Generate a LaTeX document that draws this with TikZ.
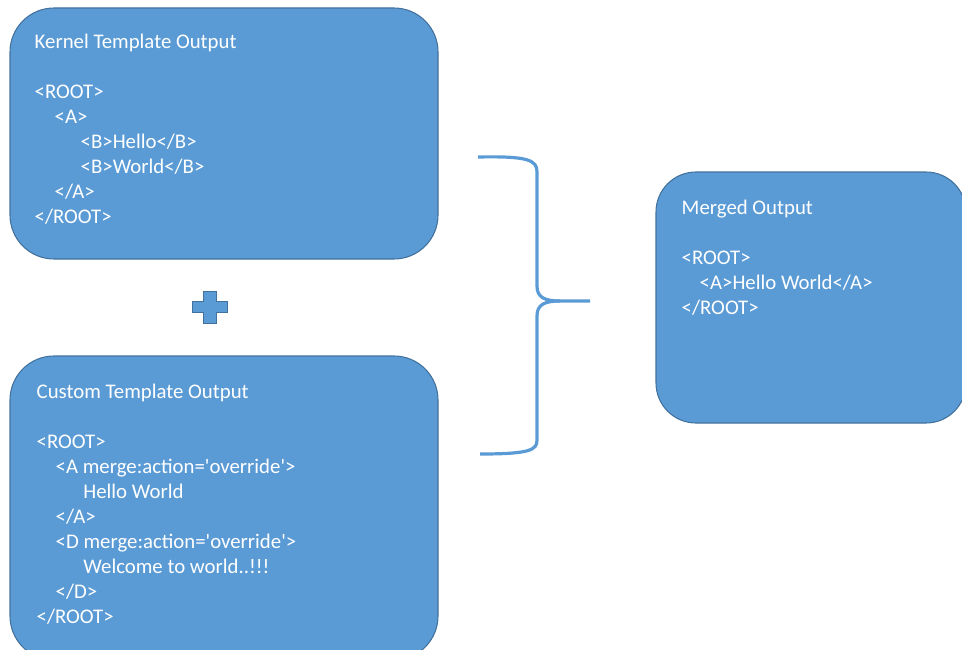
\documentclass[tikz,border=0pt]{standalone}
\usepackage{fontspec}
\setmainfont{Carlito}
\usepackage{tikz}
\usetikzlibrary{calc, positioning}
\definecolor{boxblue}{HTML}{5B9BD5}
\definecolor{boxedge}{HTML}{41719C}

\tikzset{
    outbox/.style={draw=boxedge, line width=0.8pt, fill=boxblue, rounded corners=33pt, inner sep=0pt},
    outtext/.style={text=white, anchor=north west, inner sep=0pt, align=left,
        font=\fontsize{15.6}{18.75}\selectfont},
}

\begin{document}
\begin{tikzpicture}[x=0.75pt, y=-0.75pt]

    % 1. Page frame
    \useasboundingbox (0,0) rectangle (962,649);
    \clip (0,0) rectangle (962,649);

    % 2. The three output boxes
    \node[outbox, minimum width=321pt, minimum height=188.25pt] (kernel) at (224,133.5) {};
    \node[outbox, minimum width=321pt, minimum height=228pt] (custom) at (224,508) {};
    \node[outbox, minimum width=232.5pt, minimum height=188.25pt, rounded corners=30pt] (merged) at (811,297.5) {};

    % 3. Texts inside the boxes
    \node[outtext] (kernel text) at ($(kernel.north west)+(25,26)$) {Kernel Template Output\\[18.75pt]
        <ROOT>\\
        \hspace*{15pt}<A>\\
        \hspace*{34.5pt}<B>Hello</B>\\
        \hspace*{34.5pt}<B>World</B>\\
        \hspace*{15pt}</A>\\
        </ROOT>};

    \node[outtext] (custom text) at ($(custom.north west)+(27,28)$) {Custom Template Output\\[18.75pt]
        <ROOT>\\
        \hspace*{14.25pt}<A merge:action=\textquotesingle override\textquotesingle>\\
        \hspace*{35pt}Hello World\\
        \hspace*{14.25pt}</A>\\
        \hspace*{14.25pt}<D merge:action=\textquotesingle override\textquotesingle>\\
        \hspace*{35pt}Welcome to world..!!!\\
        \hspace*{14.25pt}</D>\\
        </ROOT>};

    \node[outtext] (merged text) at ($(merged.north west)+(26,28)$) {Merged Output\\[18.75pt]
        <ROOT>\\
        \hspace*{13.5pt}<A>Hello World</A>\\
        </ROOT>};

    % 4. The plus sign between the two inputs
    \coordinate (P) at (209.5,307);
    \draw[boxedge, fill=boxblue, line width=0.5pt]
        ($(P)+(-6.5,-16)$) -- ($(P)+(6.5,-16)$) -- ($(P)+(6.5,-5.5)$) -- ($(P)+(17.5,-5.5)$)
        -- ($(P)+(17.5,5.5)$) -- ($(P)+(6.5,5.5)$) -- ($(P)+(6.5,16)$) -- ($(P)+(-6.5,16)$)
        -- ($(P)+(-6.5,5.5)$) -- ($(P)+(-17.5,5.5)$) -- ($(P)+(-17.5,-5.5)$) -- ($(P)+(-6.5,-5.5)$) -- cycle;

    % 5. The brace that joins the inputs
    \coordinate (T) at (590,301);
    \draw[boxblue, line width=2.4pt]
        (478,157) .. controls (528,156) and (537,160) .. (537,172) -- (537,286)
        .. controls (537,297) and (544,301) .. (560,301) -- (T);
    \draw[boxblue, line width=2.4pt]
        (560,301) .. controls (544,301) and (537,305) .. (537,316) -- (537,440)
        .. controls (537,450) and (530,454) .. (480,454);

\end{tikzpicture}
\end{document}
